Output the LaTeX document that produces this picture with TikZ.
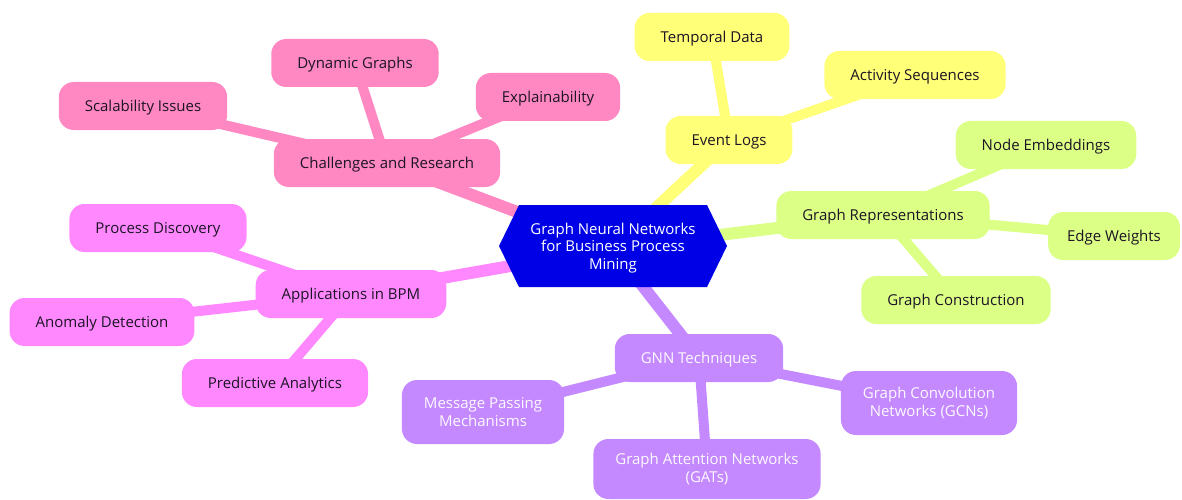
\documentclass[tikz,border=0pt]{standalone}
\usepackage{fontspec}
\setmainfont{Open Sans}
\usetikzlibrary{backgrounds}
\definecolor{cpink}{RGB}{255,136,194}
\definecolor{cyel}{RGB}{255,255,120}
\definecolor{cgreen}{RGB}{220,255,134}
\definecolor{cmag}{RGB}{255,136,255}
\definecolor{cpur}{RGB}{196,136,255}
\definecolor{cblue}{RGB}{0,0,230}
\definecolor{ctext}{RGB}{28,20,36}
\tikzset{
  lbl/.style={font=\fontsize{15}{17.5}\selectfont},
  box/.style={lbl, rounded corners=15pt, inner xsep=26pt, inner ysep=6pt, minimum height=48pt,
    align=center, text=ctext, text height=14.5pt, text depth=3.5pt},
  twoline/.style={minimum height=64pt, inner xsep=22pt, text height=, text depth=, text=white!96!cpur},
  pinkbox/.style={box, fill=cpink},
  yelbox/.style={box, fill=cyel},
  grnbox/.style={box, fill=cgreen},
  magbox/.style={box, fill=cmag},
  purbox/.style={box, fill=cpur, text=white!96!cpur},
  mainedge/.style={line width=12pt},
  subedge/.style={line width=10pt},
}
\begin{document}
\begin{tikzpicture}[x=1pt,y=-1pt]
\useasboundingbox (0,0) rectangle (1182,500);
\clip (0,0) rectangle (1182,500);
% root hexagon
\fill[cblue] (499,246) -- (519,205) -- (707,205) -- (727,246) -- (707,287) -- (519,287) -- cycle;
\node[lbl, align=center, text=white, inner sep=0pt] (root) at (613,248)
  {Graph Neural Networks\\for Business Process\\Mining};
% Challenges
\node[pinkbox] (ch) at (387,163) {Challenges and Research};
\node[pinkbox] (dyn) at (355,63) {Dynamic Graphs};
\node[pinkbox] (sca) at (143,106) {Scalability Issues};
\node[pinkbox] (exp) at (548,97) {Explainability};
% Event logs
\node[yelbox] (ev) at (729,140) {Event Logs};
\node[yelbox] (tmp) at (712,37) {Temporal Data};
\node[yelbox] (act) at (915,75) {Activity Sequences};
% Graph representations
\node[grnbox] (gr) at (883,215) {Graph Representations};
\node[grnbox] (emb) at (1046,145) {Node Embeddings};
\node[grnbox, inner xsep=19pt] (ew) at (1114,236) {Edge Weights};
\node[grnbox] (gc) at (956,300) {Graph Construction};
% Applications
\node[magbox] (app) at (351,294) {Applications in BPM};
\node[magbox] (pd) at (158,228) {Process Discovery};
\node[magbox] (ad) at (102,322) {Anomaly Detection};
\node[magbox] (pa) at (275,383) {Predictive Analytics};
% GNN techniques
\node[purbox] (gnn) at (699,358) {GNN Techniques};
\node[purbox, twoline] (mp) at (483,412) {Message Passing\\Mechanisms};
\node[purbox, twoline, minimum height=60pt] (gat) at (707,469) {Graph Attention Networks\\(GATs)};
\node[purbox, twoline] (gcn) at (929,403) {Graph Convolution\\Networks (GCNs)};
\begin{pgfonlayer}{background}
  \draw[mainedge, cpink] (root.center) -- (ch.center);
  \draw[mainedge, cyel] (root.center) -- (ev.center);
  \draw[mainedge, cgreen] (root.center) -- (gr.center);
  \draw[mainedge, cmag] (root.center) -- (app.center);
  \draw[mainedge, cpur] (root.center) -- (gnn.center);
  \draw[subedge, cpink] (ch.center) -- (dyn.center);
  \draw[subedge, cpink] (ch.center) -- (sca.center);
  \draw[subedge, cpink] (ch.center) -- (exp.center);
  \draw[subedge, cyel] (ev.center) -- (tmp.center);
  \draw[subedge, cyel] (ev.center) -- (act.center);
  \draw[subedge, cgreen] (gr.center) -- (emb.center);
  \draw[subedge, cgreen] (gr.center) -- (ew.center);
  \draw[subedge, cgreen] (gr.center) -- (gc.center);
  \draw[subedge, cmag] (app.center) -- (pd.center);
  \draw[subedge, cmag] (app.center) -- (ad.center);
  \draw[subedge, cmag] (app.center) -- (pa.center);
  \draw[subedge, cpur] (gnn.center) -- (mp.center);
  \draw[subedge, cpur] (gnn.center) -- (gat.center);
  \draw[subedge, cpur] (gnn.center) -- (gcn.center);
\end{pgfonlayer}
\end{tikzpicture}
\end{document}
